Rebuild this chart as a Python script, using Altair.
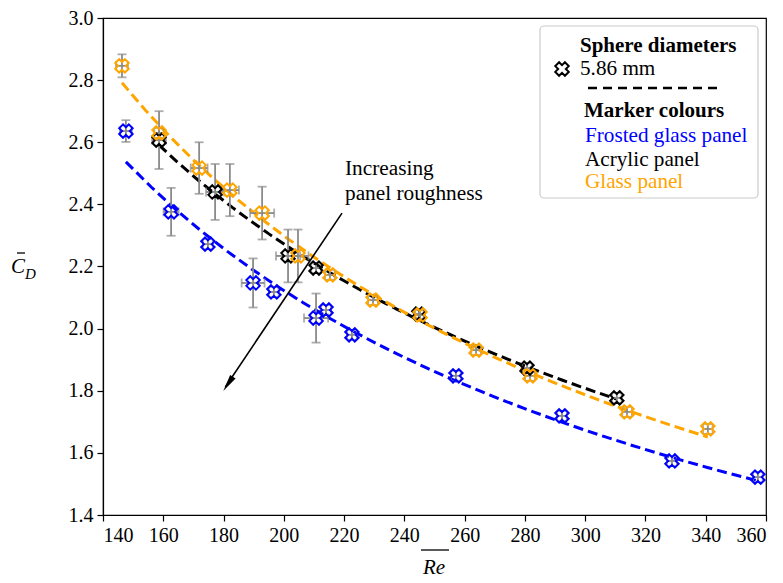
import altair as alt
import pandas as pd

# Glass panel (orange)
glass_re = [146.3, 158.6, 171.9, 182.1, 192.8, 204.7, 215.3, 229.6, 245.2, 263.8, 281.7, 313.9, 340.7]
glass_cd = [2.846, 2.630, 2.517, 2.446, 2.372, 2.234, 2.173, 2.092, 2.044, 1.931, 1.848, 1.732, 1.677]
glass_re_err = [2.0, 1.6, 2.8, 3.0, 4.0, 3.5, 1.6, 1.6, 1.6, 1.6, 1.6, 1.6, 1.6]
glass_cd_err = [0.037, 0.016, 0.083, 0.084, 0.085, 0.085, 0.016, 0.016, 0.016, 0.016, 0.016, 0.016, 0.016]

# Acrylic panel (black)
acrylic_re = [158.6, 177.2, 201.4, 210.7, 244.8, 280.7, 310.5]
acrylic_cd = [2.607, 2.440, 2.234, 2.195, 2.047, 1.873, 1.777]
acrylic_re_err = [2.3, 3.0, 4.0, 1.6, 1.6, 1.6, 1.6]
acrylic_cd_err = [0.093, 0.090, 0.085, 0.016, 0.016, 0.016, 0.016]

# Frosted glass panel (blue)
frosted_re = [147.6, 162.6, 174.8, 189.8, 196.7, 210.7, 214.0, 222.6, 257.1, 292.3, 328.8, 357.3]
frosted_cd = [2.636, 2.376, 2.272, 2.147, 2.118, 2.034, 2.060, 1.980, 1.848, 1.719, 1.574, 1.522]
frosted_re_err = [2.0, 2.5, 1.6, 3.8, 1.6, 4.0, 1.6, 1.6, 1.6, 1.6, 1.6, 1.6]
frosted_cd_err = [0.035, 0.077, 0.016, 0.079, 0.016, 0.079, 0.016, 0.016, 0.016, 0.016, 0.016, 0.016]

panels = ["Frosted glass panel", "Acrylic panel", "Glass panel"]
panel_colors = ["#0000ff", "#000000", "#ffa500"]

x_ticks = list(range(140, 361, 20))
y_ticks = [1.4, 1.6, 1.8, 2.0, 2.2, 2.4, 2.6, 2.8, 3.0]

FONT = "Liberation Serif"

frames = []
for name, re, cd, rerr, cerr in [
    (panels[0], frosted_re, frosted_cd, frosted_re_err, frosted_cd_err),
    (panels[1], acrylic_re, acrylic_cd, acrylic_re_err, acrylic_cd_err),
    (panels[2], glass_re, glass_cd, glass_re_err, glass_cd_err),
]:
    d = pd.DataFrame({"re": re, "cd": cd, "re_err": rerr, "cd_err": cerr})
    d["panel"] = name
    frames.append(d)
df = pd.concat(frames, ignore_index=True)
df["cd_lo"] = df["cd"] - df["cd_err"]
df["cd_hi"] = df["cd"] + df["cd_err"]
df["re_lo"] = df["re"] - df["re_err"]
df["re_hi"] = df["re"] + df["re_err"]

xs = alt.Scale(domain=[140, 360], nice=False, zero=False)
ys = alt.Scale(domain=[1.4, 3.0], nice=False, zero=False)
color = alt.Color("panel:N", scale=alt.Scale(domain=panels, range=panel_colors), legend=None)

x_enc = alt.X("re:Q", scale=xs, axis=alt.Axis(values=x_ticks, format="d", title=None))
y_enc = alt.Y("cd:Q", scale=ys, axis=alt.Axis(values=y_ticks, format=".1f", title=None))

base = alt.Chart(df)

# power-law fit for each panel
fits = base.transform_regression(
    "re", "cd", method="pow", groupby=["panel"]
).mark_line(strokeDash=[10, 5], strokeWidth=3).encode(x=x_enc, y=y_enc, color=color)

GREY = "#8a8a8a"
v_bars = base.mark_rule(color=GREY, strokeWidth=1.8).encode(
    x=alt.X("re:Q", scale=xs), y=alt.Y("cd_lo:Q", scale=ys), y2="cd_hi:Q"
)
v_cap_lo = base.mark_tick(color=GREY, orient="horizontal", size=9, thickness=1.8).encode(
    x=alt.X("re:Q", scale=xs), y=alt.Y("cd_lo:Q", scale=ys)
)
v_cap_hi = base.mark_tick(color=GREY, orient="horizontal", size=9, thickness=1.8).encode(
    x=alt.X("re:Q", scale=xs), y=alt.Y("cd_hi:Q", scale=ys)
)
h_bars = base.mark_rule(color=GREY, strokeWidth=1.8).encode(
    x=alt.X("re_lo:Q", scale=xs), x2="re_hi:Q", y=alt.Y("cd:Q", scale=ys)
)
h_cap_lo = base.mark_tick(color=GREY, orient="vertical", size=9, thickness=1.8).encode(
    x=alt.X("re_lo:Q", scale=xs), y=alt.Y("cd:Q", scale=ys)
)
h_cap_hi = base.mark_tick(color=GREY, orient="vertical", size=9, thickness=1.8).encode(
    x=alt.X("re_hi:Q", scale=xs), y=alt.Y("cd:Q", scale=ys)
)

points = base.mark_point(
    shape="cross", angle=45, filled=False, size=185, strokeWidth=2, opacity=1
).encode(x=x_enc, y=y_enc, color=color)

# annotation arrow
arrow_df = pd.DataFrame({"x": [219.3], "y": [2.372], "x2": [180.6], "y2": [1.812]})
arrow_line = alt.Chart(arrow_df).mark_rule(color="black", strokeWidth=1.6).encode(
    x=alt.X("x:Q", scale=xs), y=alt.Y("y:Q", scale=ys), x2="x2:Q", y2="y2:Q"
)
head_df = pd.DataFrame({"x": [181.5], "y": [1.822]})
arrow_head = alt.Chart(head_df).mark_point(
    shape="M0,-1L0.38,1L-0.38,1Z", filled=True, color="black", size=300, angle=213.7, opacity=1
).encode(x=alt.X("x:Q", scale=xs), y=alt.Y("y:Q", scale=ys))

note_df = pd.DataFrame({"x": [220.3, 220.3], "y": [2.495, 2.414],
                        "t": ["Increasing", "panel roughness"]})
note = alt.Chart(note_df).mark_text(
    align="left", baseline="alphabetic", font=FONT, fontSize=21.3, color="black"
).encode(x=alt.X("x:Q", scale=xs), y=alt.Y("y:Q", scale=ys), text="t:N")

# legend box
one = pd.DataFrame({"k": [0]})
legend_box = alt.Chart(one).mark_rect(
    fill="white", stroke="#cccccc", strokeWidth=1.2, cornerRadius=4
).encode(x=alt.value(437), x2=alt.value(655), y=alt.value(8), y2=alt.value(180))

bold_df = pd.DataFrame({"px": [477, 481], "py": [34, 99],
                        "t": ["Sphere diameters", "Marker colours"]})
legend_bold = alt.Chart(bold_df).mark_text(
    align="left", baseline="alphabetic", font=FONT, fontSize=21, fontWeight="bold", color="black"
).encode(x=alt.X("px:Q", scale=None), y=alt.Y("py:Q", scale=None), text="t:N")

plain_df = pd.DataFrame({
    "px": [477, 482, 482, 482],
    "py": [57, 124, 148, 170],
    "t": ["5.86 mm"] + panels,
    "c": ["#000000"] + panel_colors,
})
legend_plain = alt.Chart(plain_df).mark_text(
    align="left", baseline="alphabetic", font=FONT, fontSize=21.2
).encode(x=alt.X("px:Q", scale=None), y=alt.Y("py:Q", scale=None), text="t:N",
         color=alt.Color("c:N", scale=None))

legend_marker = alt.Chart(one).mark_point(
    shape="cross", angle=45, filled=False, size=185, strokeWidth=2, color="black", opacity=1
).encode(x=alt.value(459), y=alt.value(51))
legend_dash = alt.Chart(one).mark_rule(color="black", strokeWidth=2.5, strokeDash=[9, 6]).encode(
    x=alt.value(485), x2=alt.value(620), y=alt.value(70)
)

# axis titles: C-bar with subscript D, and Re with an overline
yt_c = alt.Chart(one).mark_text(
    font=FONT, fontSize=21, fontStyle="italic", align="center", baseline="alphabetic", color="black"
).encode(x=alt.value(-85), y=alt.value(255), text=alt.value("C"))
yt_d = alt.Chart(one).mark_text(
    font=FONT, fontSize=15, fontStyle="italic", align="left", baseline="alphabetic", color="black"
).encode(x=alt.value(-78), y=alt.value(261), text=alt.value("D"))
yt_bar = alt.Chart(one).mark_rule(color="black", strokeWidth=1.3).encode(
    x=alt.value(-86), x2=alt.value(-78), y=alt.value(235)
)
xt_re = alt.Chart(one).mark_text(
    font=FONT, fontSize=21, fontStyle="italic", align="center", baseline="alphabetic", color="black"
).encode(x=alt.value(331), y=alt.value(556), text=alt.value("Re"))
xt_bar = alt.Chart(one).mark_rule(color="black", strokeWidth=1.3).encode(
    x=alt.value(318), x2=alt.value(346), y=alt.value(532)
)

chart = alt.layer(
    fits, v_bars, v_cap_lo, v_cap_hi, h_bars, h_cap_lo, h_cap_hi, points,
    arrow_line, arrow_head, note,
    legend_box, legend_bold, legend_plain, legend_marker, legend_dash,
    yt_c, yt_d, yt_bar, xt_re, xt_bar,
).properties(
    width=663, height=497,
    autosize=alt.AutoSizeParams(type="none"),
    padding={"left": 103, "top": 18, "right": 17, "bottom": 68},
    background="white",
).configure_view(
    stroke="black", strokeWidth=1.2
).configure_axis(
    labelFont=FONT, labelFontSize=20, labelColor="black", domainColor="black",
    tickColor="black", tickSize=6, labelPadding=4, grid=False, domainWidth=1.2, tickWidth=1.2,
)

chart.save("out.html", embed_options={"renderer": "svg", "actions": False})
